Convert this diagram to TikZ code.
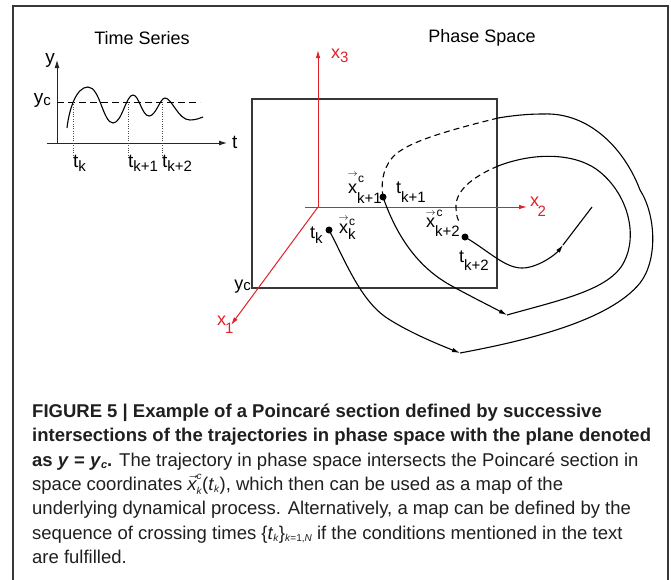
\documentclass[tikz,border=0pt]{standalone}
\usepackage{fontspec}
\setmainfont{Liberation Sans}
\usetikzlibrary{arrows.meta}
\definecolor{axred}{RGB}{226,32,40}
\definecolor{framegray}{RGB}{55,55,55}
\newcommand\fs[1]{\fontsize{#1}{#1}\selectfont}
\newcommand\lo[3]{\raisebox{-#1}{\fs{#2}#3}}
\newcommand\hi[3]{\raisebox{#1}{\fs{#2}#3}}
\newcommand\vx[1]{\rlap{\kern-0.5pt\raisebox{#1}{\fs{10}$\rightarrow$}}x}
\begin{document}
\begin{tikzpicture}[x=1pt,y=-1pt,
  every node/.style={inner sep=0pt},
  lab/.style={font=\fs{18}, anchor=base west},
  tlab/.style={font=\fs{19}, anchor=base west},
  title/.style={font=\fs{18}},
  capline/.style={font=\fs{18.5}, anchor=base west, text=black!88},
  traj/.style={line width=1.1pt, black},
  trajdash/.style={traj, dash pattern=on 6pt off 4pt},
  tip/.style={-{Latex[length=8pt,width=4.5pt]}},
  blkaxis/.style={line width=0.9pt, black!85, -{Latex[length=8pt,width=5pt]}},
  redaxis/.style={axred, line width=1pt, -{Latex[length=8pt,width=4.5pt]}},
  redlab/.style={lab, text=axred},
  pt/.style={circle, fill=black, minimum size=7pt, inner sep=0pt},
  dotv/.style={black!70, line width=0.7pt, dash pattern=on 0.8pt off 1.6pt},
]
\useasboundingbox (0,0) rectangle (671,579);
\fill[white] (0,0) rectangle (671,579);
\draw[framegray, line width=1.3pt] (13,590) -- (13,6) -- (668,6) -- (668,590);

% ---------------- Time series ----------------
\node[title] (tstitle) at (142,38) {Time Series};
\coordinate (yb) at (57,143); \coordinate (yt) at (57,60);
\coordinate (tl) at (47,143); \coordinate (tr) at (227,143);
\draw[blkaxis] (yb) -- (yt);
\draw[blkaxis] (tl) -- (tr);
\node[tlab, anchor=base east] (ylab) at (55,63) {y};
\node[tlab] (taxlab) at (232,148) {t};
\coordinate (ycl) at (57,102); \coordinate (ycr) at (200,102);
\draw[black, line width=1pt, dash pattern=on 7pt off 4pt] (ycl) -- (ycr);
\node[tlab, anchor=base east] (yclab) at (51,103) {y\lo{2.5pt}{15}{c}};
\draw[traj] (67,128) .. controls (69,110) and (76,87) .. (88,87)
  .. controls (100,87) and (103,123) .. (113,123)
  .. controls (122,123) and (126,95) .. (133,95)
  .. controls (139,95) and (142,116) .. (149,116)
  .. controls (156,116) and (160,98) .. (165,98)
  .. controls (172,98) and (178,120) .. (190,120)
  .. controls (196,120) and (200,118) .. (203,117);
\coordinate (d1t) at (73,102); \coordinate (d1b) at (73,157);
\coordinate (d2t) at (128,102); \coordinate (d2b) at (128,157);
\coordinate (d3t) at (162,102); \coordinate (d3b) at (162,157);
\draw[dotv] (d1t) -- (d1b);
\draw[dotv] (d2t) -- (d2b);
\draw[dotv] (d3t) -- (d3b);
\node[tlab] (tslk) at (73,167) {t\lo{4pt}{15}{k}};
\node[tlab] (tslk1) at (128,167) {t\lo{4pt}{15}{k+1}};
\node[tlab] (tslk2) at (162,167) {t\lo{4pt}{15}{k+2}};

% ---------------- Phase space ----------------
\node[title] (pstitle) at (482,38) {Phase Space};
\draw[framegray, line width=1.4pt] (252,99) rectangle (497,288);
\coordinate (O) at (318,207);
\coordinate (x3end) at (318,50);
\coordinate (x2start) at (305,207); \coordinate (x2end) at (527,207);
\coordinate (x1end) at (231,325);
\draw[redaxis] (O) -- (x3end);
\draw[redaxis] (x2start) -- (x2end);
\draw[redaxis] (O) -- (x1end);
\node[redlab] (x3lab) at (331,58) {x\lo{4pt}{15}{3}};
\node[redlab] (x2lab) at (530,206) {x\kern-1.5pt\lo{10pt}{15}{2}};
\node[redlab] (x1lab) at (217,325) {x\kern-1pt\lo{8pt}{15}{1}};
\node[lab, anchor=base east] (ycps) at (251,289) {y\lo{1.5pt}{15}{c}};

% crossing points
\node[pt] (pk) at (329,230) {};
\node[pt] (pk1) at (383,197) {};
\node[pt] (pk2) at (465,237) {};

% labels
\node[lab] (lk) at (310,238) {t\lo{5pt}{15}{k}};
\node[lab] (lxk) at (339,233) {\vx{13pt}\kern1pt\rlap{\hi{7.5pt}{12}{c}}\kern-1pt\lo{6pt}{15}{k}};
\node[lab] (lxk1) at (348,193) {\vx{17pt}\kern1pt\rlap{\hi{11pt}{12}{c}}\kern-1pt\lo{10pt}{15}{k+1}};
\node[lab] (lk1) at (396,193) {t\lo{9pt}{15}{k+1}};
\node[lab] (lxk2) at (426,227) {\vx{12pt}\kern1.5pt\rlap{\hi{11pt}{12}{c}}\kern-1.5pt\lo{9pt}{15}{k+2}};
\node[lab] (lk2) at (459,262) {t\lo{8pt}{15}{k+2}};

% trajectories
\coordinate (a1) at (460,353);
\coordinate (e1) at (498,118);
\coordinate (a2) at (507,315);
\coordinate (e2) at (498,166);
\coordinate (a3) at (563,245);
\coordinate (f3) at (592,207);
\coordinate (dk2) at (460,224);

\draw[traj, tip] (pk.center) .. controls (345,260) and (360,300) .. (387,318)
  .. controls (410,333) and (440,345) .. (a1);
\draw[traj] (a1) .. controls (530,340) and (610,320) .. (640,283)
  .. controls (658,260) and (656,215) .. (640,190)
  .. controls (625,150) and (590,112) .. (543,114)
  .. controls (525,114) and (510,116) .. (e1);
\draw[trajdash] (e1) .. controls (450,130) and (405,142) .. (392,158)
  .. controls (382,170) and (381,185) .. (pk1.center);

\draw[traj, tip] (pk1.center) .. controls (398,240) and (420,268) .. (450,285)
  .. controls (470,296) and (490,306) .. (a2);
\draw[traj] (a2) .. controls (560,300) and (610,290) .. (624,262)
  .. controls (638,235) and (628,195) .. (600,172)
  .. controls (580,155) and (540,150) .. (e2);
\draw[trajdash] (e2) .. controls (470,178) and (455,192) .. (456,208)
  .. controls (456,215) and (458,220) .. (dk2);

\draw[traj, tip] (pk2.center) .. controls (490,252) and (505,268) .. (522,268)
  .. controls (538,268) and (556,254) .. (a3);
\draw[traj] (a3) -- (f3);

% ---------------- Caption ----------------
\node[capline] (c1) at (32,417) {\bfseries FIGURE 5 | Example of a Poincaré section defined by successive};
\node[capline] (c2) at (32,441) {\bfseries intersections of the trajectories in phase space with the plane denoted};
\node[capline] (c3) at (32,466) {\textbf{as \textit{y} = \textit{y}\lo{2pt}{11}{\textit{c}}.} The trajectory in phase space intersects the Poincaré section in};
\node[capline] (c4) at (32,490) {space coordinates $\vec{\mbox{\itshape x}}^{\mbox{\fs{10}\itshape c}}_{\mbox{\fs{10}\itshape k}}$(\textit{t}\lo{2pt}{10}{\textit{k}}), which then can be used as a map of the};
\node[capline] (c5) at (32,514) {underlying dynamical process. Alternatively, a map can be defined by the};
\node[capline] (c6) at (32,539) {sequence of crossing times \{\textit{t}\lo{2pt}{10}{\textit{k}}\}\lo{2pt}{10}{\textit{k}=1,\textit{N}} if the conditions mentioned in the text};
\node[capline] (c7) at (32,563) {are fulfilled.};
\end{tikzpicture}
\end{document}
